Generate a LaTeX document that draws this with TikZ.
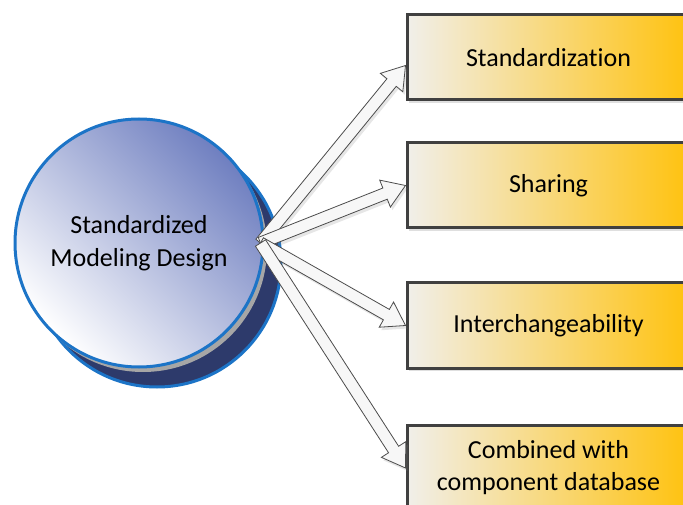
\documentclass[tikz,border=0pt]{standalone}
\usepackage{fontspec}
\setmainfont[Ligatures=NoCommon]{Carlito}
\usetikzlibrary{calc,shadows}
\definecolor{coreblue}{HTML}{6F7FC0}
\definecolor{rimblue}{HTML}{1C74C7}
\definecolor{navy}{HTML}{2D3A6B}
\definecolor{gold}{HTML}{FFC20E}
\definecolor{paper}{HTML}{F1EFEA}
\definecolor{frame}{HTML}{404040}
\newcommand{\blockarrow}[2]{%
  \coordinate (neck) at ($(#2)!22pt!(#1)$);
  \filldraw[fat arrow]
    ($(#1)!6pt!90:(#2)$) -- ($(neck)!6pt!90:(#2)$) -- ($(neck)!14.5pt!90:(#2)$)
    -- (#2) -- ($(neck)!14.5pt!-90:(#2)$) -- ($(neck)!6pt!-90:(#2)$)
    -- ($(#1)!6pt!-90:(#2)$) -- cycle;}
\begin{document}
\begin{tikzpicture}[
  x=1pt, y=-1pt,
  bigfont/.style={font=\fontsize{26}{32}\selectfont, align=center},
  core/.style={circle, minimum size=248pt, draw=rimblue, line width=3pt,
    left color=white, right color=coreblue, shading angle=135, bigfont},
  backdisc/.style={circle, minimum size=248pt, draw=rimblue, line width=3pt, fill=navy},
  item/.style={rectangle, minimum width=283pt, minimum height=85pt, draw=frame,
    line width=3pt, left color=paper, right color=gold, bigfont,
    drop shadow={shadow xshift=2pt, shadow yshift=-3pt, opacity=.25}},
  fat arrow/.style={draw=black!70, fill=black!3, line width=.8pt, line join=miter,
    drop shadow={shadow xshift=2pt, shadow yshift=-3pt, opacity=.2}}
]
\useasboundingbox (0,0) rectangle (683,505);
\clip (0,0) rectangle (683,505);
\node[backdisc] (back) at (157,263) {};
\node[circle, minimum size=248pt, fill=black!35] (rim) at (143,248) {};
\node[core] (core) at (139,243) {Standardized\\[1pt]Modeling Design};
\node[item] (s1) at (548.5,57.5) {Standardization};
\node[item] (s2) at (548.5,185.5) {Sharing};
\node[item] (s3) at (548.5,325.5) {Interchangeability};
\node[item] (s4) at (548.5,468) {Combined with\\component database};
\coordinate (hub) at ($(core.east)+(-4,0)$);
\coordinate (t1) at ($(s1.west)+(0,8)$);
\foreach \t in {t1,s2.west,s3.west,s4.west}
  {\blockarrow{hub}{\t}}
\end{tikzpicture}
\end{document}
